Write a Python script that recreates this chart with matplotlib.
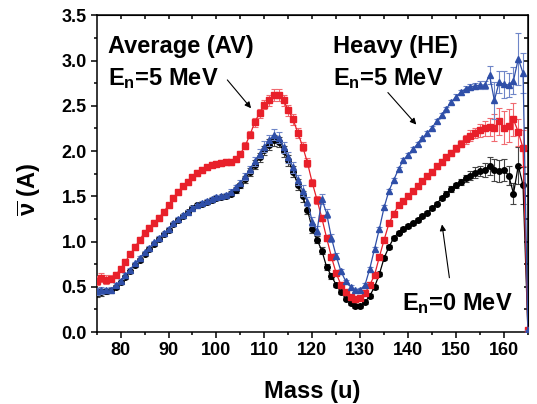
import numpy as np
import matplotlib
matplotlib.use("Agg")
import matplotlib.pyplot as plt

plt.rcParams['font.family'] = ['Liberation Sans', 'DejaVu Sans']
plt.rcParams['font.weight'] = 'bold'
plt.rcParams['mathtext.fontset'] = 'custom'
plt.rcParams['mathtext.rm'] = 'Liberation Sans:bold'
plt.rcParams['mathtext.it'] = 'Liberation Sans:bold'
plt.rcParams['mathtext.bf'] = 'Liberation Sans:bold'

# mass number of the fragment
mass = np.arange(75, 166)

# mean neutron multiplicity, En = 0 MeV
nu_e0 = [0.43, 0.44, 0.45, 0.46, 0.50, 0.55, 0.61, 0.67, 0.74, 0.80,
         0.86, 0.92, 0.97, 1.03, 1.08, 1.13, 1.19, 1.24, 1.28, 1.33,
         1.37, 1.40, 1.42, 1.44, 1.46, 1.48, 1.49, 1.50, 1.53, 1.57,
         1.62, 1.69, 1.77, 1.85, 1.93, 2.01, 2.07, 2.12, 2.10, 2.00,
         1.90, 1.77, 1.63, 1.50, 1.35, 1.14, 1.02, 0.90, 0.72, 0.62,
         0.52, 0.44, 0.37, 0.32, 0.29, 0.29, 0.33, 0.40, 0.50, 0.64,
         0.82, 0.94, 1.04, 1.10, 1.14, 1.17, 1.20, 1.24, 1.28, 1.32,
         1.37, 1.42, 1.48, 1.53, 1.58, 1.62, 1.66, 1.70, 1.73, 1.76,
         1.78, 1.79, 1.84, 1.79, 1.78, 1.79, 1.73, 1.53, 1.84, 1.62,
         0.02]
err_e0 = [0.04, 0.04, 0.03, 0.03, 0.02, 0.02, 0.02, 0.02, 0.02, 0.02,
          0.02, 0.02, 0.02, 0.02, 0.02, 0.02, 0.02, 0.02, 0.02, 0.02,
          0.02, 0.02, 0.02, 0.02, 0.02, 0.02, 0.02, 0.02, 0.03, 0.03,
          0.03, 0.04, 0.04, 0.05, 0.05, 0.05, 0.06, 0.06, 0.06, 0.06,
          0.06, 0.06, 0.06, 0.06, 0.05, 0.05, 0.04, 0.04, 0.03, 0.03,
          0.02, 0.02, 0.02, 0.02, 0.02, 0.02, 0.02, 0.02, 0.02, 0.02,
          0.02, 0.02, 0.02, 0.02, 0.02, 0.02, 0.02, 0.02, 0.02, 0.02,
          0.02, 0.02, 0.02, 0.03, 0.03, 0.03, 0.03, 0.04, 0.05, 0.06,
          0.06, 0.08, 0.10, 0.12, 0.12, 0.12, 0.10, 0.12, 0.20, 0.20,
          0.0]

# average fragment, En = 5 MeV
nu_av5 = [0.57, 0.60, 0.58, 0.59, 0.63, 0.70, 0.78, 0.86, 0.94, 1.02,
          1.10, 1.15, 1.21, 1.26, 1.33, 1.40, 1.48, 1.55, 1.61, 1.66,
          1.71, 1.76, 1.79, 1.82, 1.85, 1.86, 1.87, 1.88, 1.88, 1.91,
          1.97, 2.06, 2.18, 2.32, 2.42, 2.51, 2.56, 2.62, 2.62, 2.56,
          2.45, 2.35, 2.20, 2.05, 1.87, 1.65, 1.46, 1.26, 1.04, 0.83,
          0.65, 0.52, 0.44, 0.39, 0.37, 0.38, 0.43, 0.52, 0.63, 0.83,
          1.02, 1.20, 1.31, 1.40, 1.45, 1.50, 1.56, 1.61, 1.67, 1.72,
          1.77, 1.83, 1.88, 1.93, 1.98, 2.03, 2.08, 2.13, 2.17, 2.20,
          2.23, 2.25, 2.27, 2.26, 2.33, 2.26, 2.28, 2.35, 2.21, 2.03,
          0.02]
err_av5 = [0.05, 0.05, 0.05, 0.04, 0.03, 0.03, 0.03, 0.03, 0.03, 0.03,
           0.03, 0.03, 0.03, 0.03, 0.03, 0.03, 0.03, 0.03, 0.03, 0.03,
           0.03, 0.03, 0.03, 0.03, 0.03, 0.03, 0.03, 0.03, 0.03, 0.03,
           0.03, 0.04, 0.04, 0.05, 0.05, 0.05, 0.06, 0.07, 0.07, 0.06,
           0.06, 0.06, 0.06, 0.05, 0.05, 0.04, 0.04, 0.03, 0.03, 0.03,
           0.02, 0.02, 0.02, 0.02, 0.02, 0.02, 0.02, 0.02, 0.02, 0.02,
           0.02, 0.02, 0.02, 0.02, 0.02, 0.02, 0.02, 0.02, 0.02, 0.03,
           0.03, 0.03, 0.03, 0.03, 0.03, 0.04, 0.04, 0.05, 0.06, 0.06,
           0.07, 0.08, 0.10, 0.15, 0.15, 0.18, 0.18, 0.18, 0.15, 0.20,
           0.0]

# heavy fragment, En = 5 MeV
nu_he5 = [0.45, 0.46, 0.46, 0.47, 0.52, 0.57, 0.63, 0.69, 0.76, 0.82,
          0.88, 0.93, 0.99, 1.04, 1.09, 1.14, 1.20, 1.25, 1.29, 1.33,
          1.37, 1.40, 1.43, 1.45, 1.47, 1.49, 1.50, 1.52, 1.55, 1.60,
          1.65, 1.72, 1.80, 1.89, 1.97, 2.05, 2.12, 2.18, 2.15, 2.04,
          1.93, 1.82, 1.68, 1.56, 1.44, 1.22, 1.12, 1.47, 1.31, 1.04,
          0.84, 0.67, 0.56, 0.50, 0.46, 0.47, 0.52, 0.70, 0.92, 1.14,
          1.38, 1.56, 1.68, 1.80, 1.90, 1.96, 2.02, 2.08, 2.14, 2.20,
          2.26, 2.33, 2.40, 2.47, 2.54, 2.60, 2.65, 2.69, 2.71, 2.72,
          2.73, 2.73, 2.84, 2.56, 2.76, 2.74, 2.73, 2.78, 3.02, 2.86,
          0.02]
err_he5 = [0.04, 0.04, 0.03, 0.03, 0.02, 0.02, 0.02, 0.02, 0.02, 0.02,
           0.02, 0.02, 0.02, 0.02, 0.02, 0.02, 0.02, 0.02, 0.02, 0.02,
           0.02, 0.02, 0.02, 0.02, 0.02, 0.02, 0.02, 0.02, 0.03, 0.03,
           0.03, 0.04, 0.04, 0.05, 0.05, 0.06, 0.06, 0.06, 0.06, 0.06,
           0.06, 0.06, 0.06, 0.06, 0.05, 0.05, 0.05, 0.06, 0.05, 0.04,
           0.03, 0.03, 0.02, 0.02, 0.02, 0.02, 0.02, 0.02, 0.02, 0.02,
           0.02, 0.02, 0.02, 0.02, 0.02, 0.02, 0.02, 0.02, 0.02, 0.02,
           0.02, 0.02, 0.02, 0.02, 0.02, 0.03, 0.03, 0.03, 0.03, 0.03,
           0.04, 0.04, 0.10, 0.20, 0.12, 0.15, 0.13, 0.15, 0.29, 0.22,
           0.0]

fig = plt.figure(figsize=(5.37, 4.04), dpi=100)
ax = fig.add_axes([0.180, 0.178, 0.803, 0.784])

ax.errorbar(mass, nu_e0, yerr=err_e0, fmt='-o', color='black', ecolor='#444444',
            ms=4, lw=0.9, elinewidth=0.8, capsize=2.5, capthick=0.8, zorder=2)
ax.errorbar(mass, nu_av5, yerr=err_av5, fmt='-s', color='#e8202a', ecolor='#f06a70',
            ms=4, lw=0.9, elinewidth=0.8, capsize=2.5, capthick=0.8, zorder=3)
ax.errorbar(mass, nu_he5, yerr=err_he5, fmt='-^', color='#2f4fa8', ecolor='#6f86c8',
            ms=4.5, lw=0.9, elinewidth=0.8, capsize=2.5, capthick=0.8, zorder=4)

ax.set_xlim(75, 165)
ax.set_ylim(0, 3.5)
ax.set_xticks(np.arange(80, 161, 10))
ax.set_xticks(np.arange(75, 166, 5), minor=True)
ax.set_yticks(np.arange(0, 3.51, 0.5))
ax.set_yticks(np.arange(0, 3.51, 0.25), minor=True)
ax.yaxis.set_major_formatter(plt.FormatStrFormatter('%.1f'))
ax.tick_params(which='major', direction='out', length=4, width=1.1, labelsize=13, pad=3)
ax.tick_params(which='minor', direction='out', length=2.5, width=1.1)
for s in ax.spines.values():
    s.set_linewidth(1.1)

# mirrored ticks pointing inward on top and right
top = ax.secondary_xaxis('top')
top.set_xticks(np.arange(80, 161, 5))
top.tick_params(direction='in', length=3, width=1.1, labeltop=False)
right = ax.secondary_yaxis('right')
right.set_yticks(np.arange(0.25, 3.5, 0.25))
right.tick_params(direction='in', length=3, width=1.1, labelright=False)

ax.set_xlabel('Mass (u)', fontsize=17, fontweight='bold', labelpad=15)
ax.set_ylabel(r'$\overline{\mathbf{\nu}}$ (A)', fontsize=17, fontweight='bold')
ax.yaxis.set_label_coords(-0.125, 0.45)

ax.text(77.4, 3.08, 'Average (AV)', fontsize=17, fontweight='bold')
ax.text(77.4, 2.73, r'$\mathbf{E_n}$=5 MeV', fontsize=17, fontweight='bold')
ax.text(124.3, 3.08, 'Heavy (HE)', fontsize=17, fontweight='bold')
ax.text(124.3, 2.73, r'$\mathbf{E_n}$=5 MeV', fontsize=17, fontweight='bold')
ax.text(138.7, 0.24, r'$\mathbf{E_n}$=0 MeV', fontsize=17, fontweight='bold')

arrow = dict(arrowstyle='-|>', color='black', lw=0.8, mutation_scale=9)
ax.annotate('', xy=(107.6, 2.45), xytext=(101.9, 2.81), arrowprops=arrow)
ax.annotate('', xy=(142.1, 2.27), xytext=(135.4, 2.67), arrowprops=arrow)
ax.annotate('', xy=(147.0, 1.22), xytext=(148.7, 0.57), arrowprops=arrow)

fig.savefig('out.png', dpi=100)
